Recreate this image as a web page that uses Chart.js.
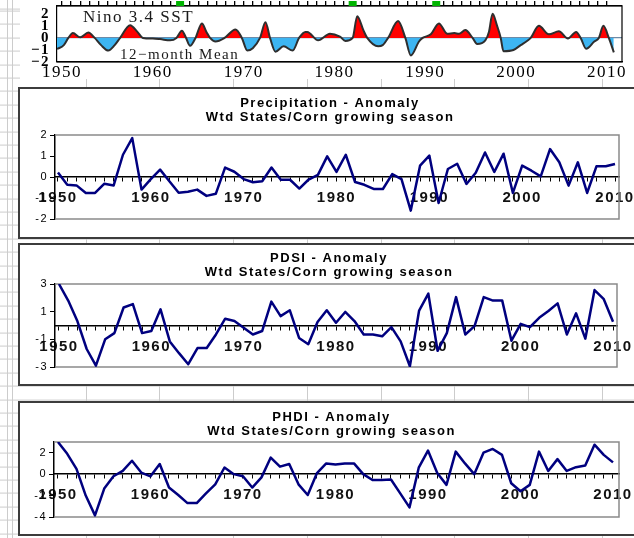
<!DOCTYPE html>
<html>
<head>
<meta charset="utf-8">
<script src="https://cdn.jsdelivr.net/npm/chart.js@4.4.1/dist/chart.umd.min.js"></script>
<style>
  html, body { margin: 0; padding: 0; }
  body {
    width: 634px; height: 538px; position: relative; overflow: hidden;
    background-color: #fff;
    /* spreadsheet grid behind the charts */
    background-image:
      linear-gradient(to right, #cccccc 0 1px, transparent 1px),
      repeating-linear-gradient(to right, #cccccc 0 1px, transparent 1px 73.75px),
      repeating-linear-gradient(to bottom, #cccccc 0 1px, transparent 1px 13.4px);
    background-position: 7px 0, 12px 0, 0 10.6px;
    background-size: 1px 100%, auto, auto;
    background-repeat: no-repeat, repeat, repeat;
  }
  canvas { display: block; background: #fff; }
  #ninoBox { position: absolute; left: 20px; top: 0; }
  .frame { position: absolute; left: 18px; border: 2px solid #3c3c3c; border-right: none; background: #fff; width: 616px; }
</style>
</head>
<body>
<div id="ninoBox"><canvas id="ninoChart" width="614" height="79"></canvas></div>
<div class="frame" style="top:87px;height:148px"><canvas id="precipChart" width="614" height="148"></canvas></div>
<div class="frame" style="top:243px;height:139px"><canvas id="pdsiChart" width="614" height="139"></canvas></div>
<div class="frame" style="top:401px;height:131px"><canvas id="phdiChart" width="614" height="131"></canvas></div>

<script>
// ---- data ----
const firstYear = 1950;
const decadeLabels = [1950, 1960, 1970, 1980, 1990, 2000, 2010];
const subTitle = 'Wtd States/Corn growing season';

// Nino 3.4 SST, 12-month mean (decimal year, anomaly)
const ninoYears = [1949.45, 1950.2, 1950.7, 1951.2, 1952.0, 1952.9, 1953.6, 1954.3, 1955.1, 1955.8,
  1956.4, 1957.5, 1958.3, 1958.9, 1960.0, 1960.8, 1961.9, 1962.6, 1963.2, 1963.6,
  1964.1, 1964.7, 1965.4, 1965.9, 1966.3, 1966.9, 1967.9, 1969.1, 1969.8, 1970.4,
  1971.0, 1971.8, 1972.4, 1972.9, 1973.5, 1974.4, 1975.4, 1976.1, 1976.8, 1977.0,
  1978.2, 1979.5, 1980.6, 1981.2, 1982.0, 1982.5, 1983.2, 1983.6, 1984.8, 1985.3,
  1985.9, 1987.0, 1987.8, 1988.4, 1989.3, 1989.7, 1990.6, 1991.5, 1992.4, 1993.2,
  1993.7, 1994.4, 1995.2, 1995.7, 1996.6, 1997.0, 1997.4, 1997.9, 1998.3, 1998.6,
  1999.7, 2000.5, 2001.3, 2001.6, 2002.5, 2003.6, 2004.7, 2005.7, 2006.6, 2007.1,
  2007.7, 2008.6, 2009.1, 2009.6, 2010.2, 2010.75];
const ninoValues = [-0.92, -0.6, 0.0, 0.4, 0.05, 0.45, 0.0, -0.6, -1.05, -0.6,
  0.0, 1.05, 0.5, 0.0, -0.05, -0.1, -0.2, 0.0, 0.6, 0.1,
  -0.65, 0.0, 1.2, 0.5, 0.0, -0.3, 0.0, 0.7, 0.0, -1.05,
  -0.85, 0.0, 1.3, 0.0, -1.15, -0.7, -1.05, 0.0, 0.5, 0.5,
  -0.2, 0.35, 0.1, -0.25, 0.0, 1.8, 0.6, 0.0, -0.7, -0.6,
  0.0, 1.4, 0.0, -1.45, -0.3, 0.0, 0.3, 1.2, 0.35, 0.4,
  0.35, 0.65, 0.0, -0.5, -0.2, 0.5, 2.0, 1.0, 0.0, -1.1,
  -1.0, -0.6, -0.2, 0.0, 1.0, 0.3, 0.55, -0.05, 0.5, 0.0,
  -0.9, -0.3, 0.0, 1.0, 0.0, -1.2];
const ninoTicks = [-2, -1, 0, 1, 2];
const volcanoYears = [1963.0, 1982.0, 1991.2];

// Annual anomalies 1950-2010
const precipValues = [0.22, -0.37, -0.4, -0.76, -0.76, -0.32, -0.4, 1.06, 1.85, -0.6,
  -0.1, 0.35, -0.2, -0.75, -0.7, -0.6, -0.9, -0.8, 0.45, 0.25,
  -0.1, -0.25, -0.2, 0.45, -0.13, -0.13, -0.55, -0.12, 0.1, 0.98,
  0.24, 1.06, -0.24, -0.37, -0.57, -0.57, 0.14, -0.1, -1.6, 0.54,
  1.02, -1.24, 0.38, 0.63, -0.33, 0.2, 1.17, 0.24, 1.11, -0.76,
  0.54, 0.3, 0.03, 1.33, 0.7, -0.41, 0.7, -0.76, 0.51, 0.51,
  0.62];
const precipTicks = [-2, -1, 0, 1, 2];

const pdsiValues = [3.0, 1.8, 0.3, -1.7, -2.9, -1.0, -0.55, 1.3, 1.55, -0.55,
  -0.4, 1.17, -1.15, -2.0, -2.8, -1.63, -1.63, -0.65, 0.49, 0.32,
  -0.17, -0.65, -0.4, 1.73, 0.68, 1.1, -0.9, -1.35, 0.25, 1.1,
  0.2, 0.98, 0.32, -0.65, -0.65, -0.78, -0.12, -1.15, -2.95, 1.08,
  2.3, -1.83, -0.55, 2.05, -0.65, -0.05, 2.05, 1.8, 1.8, -1.1,
  0.12, -0.12, 0.56, 1.05, 1.6, -0.65, 0.88, -0.95, 2.56, 1.9,
  0.27];
const pdsiTicks = [-3, -1, 1, 3];

const phdiValues = [3.0, 1.9, 0.5, -2.0, -3.85, -1.35, -0.2, 0.3, 1.25, 0.15,
  -0.2, 0.95, -1.25, -1.95, -2.7, -2.7, -1.8, -0.95, 0.62, 0.0,
  -0.2, -1.25, -0.3, 1.55, 0.7, 0.95, -0.95, -1.95, 0.1, 1.0,
  0.9, 1.0, 1.0, 0.0, -0.55, -0.55, -0.5, -1.8, -3.1, 0.6,
  2.2, 0.1, -1.0, 2.1, 1.0, 0.0, 2.0, 2.35, 1.8, -0.85,
  -1.6, -1.0, 2.1, 0.3, 1.4, 0.3, 0.65, 0.8, 2.75, 1.8,
  1.1];
const phdiTicks = [-4, -2, 0, 2];

const years = precipValues.map((v, i) => firstYear + i);

const sans = '"Liberation Sans", Arial, sans-serif';
const serif = '"Liberation Serif", "Times New Roman", serif';

// plot box lines (top, right, bottom) + letter spacing for the stretched old-style text
const plotFrame = {
  id: 'plotFrame',
  beforeDraw(chart, args, opts) {
    chart.ctx.letterSpacing = opts.spacing || '0px';
  },
  beforeDatasetsDraw(chart, args, opts) {
    const { ctx, chartArea: a } = chart;
    ctx.save();
    ctx.strokeStyle = opts.color;
    ctx.lineWidth = opts.width;
    ctx.beginPath();
    ctx.moveTo(a.left, a.top);
    ctx.lineTo(a.right, a.top);
    ctx.lineTo(a.right, a.bottom);
    ctx.lineTo(a.left, a.bottom);
    ctx.stroke();
    ctx.restore();
  }
};

// two-line bold title, centred a little left of the plot centre like the original
const panelTitle = {
  id: 'panelTitle',
  afterDraw(chart, args, opts) {
    if (!opts.lines) return;
    const { ctx, chartArea: a } = chart;
    ctx.save();
    ctx.fillStyle = '#000';
    ctx.font = 'bold 13px ' + sans;
    ctx.textAlign = 'center';
    ctx.textBaseline = 'middle';
    const cx = (a.left + a.right) / 2 + opts.dx;
    opts.lines.forEach((t, i) => ctx.fillText(t, cx, opts.top + i * 14));
    ctx.restore();
  }
};

// labels and volcano markers of the Nino strip
const ninoDecor = {
  id: 'ninoDecor',
  afterDatasetsDraw(chart) {
    const { ctx, chartArea: a } = chart;
    const x = chart.scales.x;
    ctx.save();
    ctx.fillStyle = '#00b400';
    volcanoYears.forEach(yr => {
      const px = x.getPixelForValue(yr);
      ctx.fillRect(px - 4, a.top - 5, 8, 5);
    });
    ctx.fillStyle = '#1a1a1a';
    ctx.textBaseline = 'middle';
    ctx.textAlign = 'left';
    ctx.font = '17px ' + serif;
    ctx.fillText('Nino 3.4 SST', 63, 18);
    ctx.font = '15px ' + serif;
    ctx.fillText('12\u2212month Mean', 100, 55);
    ctx.restore();
  }
};

function initNinoChart() {
  const ctx = document.getElementById('ninoChart');
  if (!ctx) return;
  new Chart(ctx, {
    type: 'line',
    data: {
      datasets: [{
        data: ninoYears.map((yr, i) => ({ x: yr, y: ninoValues[i] })),
        borderColor: '#2e2e2e',
        borderWidth: 2,
        pointRadius: 0,
        cubicInterpolationMode: 'monotone',
        fill: { target: 'origin', above: '#ff0000', below: '#3db5f2' }
      }]
    },
    options: {
      responsive: false,
      animation: false,
      layout: { padding: { left: 0, right: 12, top: 0, bottom: 0 }, autoPadding: false },
      plugins: {
        legend: { display: false },
        tooltip: { enabled: false },
        plotFrame: { color: '#000', width: 1.2, spacing: '1.5px' }
      },
      scales: {
        x: {
          type: 'linear', position: 'bottom', min: 1949.45, max: 2011.65,
          afterBuildTicks: s => { s.ticks = decadeLabels.map(v => ({ value: v })); },
          afterFit: s => { s.height = 17; s.paddingLeft = 0; s.paddingRight = 0; },
          border: { color: '#000', width: 1.2 },
          grid: { display: false, drawTicks: false },
          ticks: { autoSkip: false, maxRotation: 0, padding: 2, color: '#000',
                   font: { family: serif, size: 17, lineHeight: 1 },
                   callback: v => String(v) }
        },
        xTop: {
          type: 'linear', position: 'top', min: 1949.45, max: 2011.65,
          afterBuildTicks: s => { s.ticks = years.map(v => ({ value: v })); },
          afterFit: s => { s.height = 6; s.paddingLeft = 0; s.paddingRight = 0; },
          border: { color: '#000', width: 1.2 },
          grid: { drawOnChartArea: false, tickLength: 5, color: '#000', lineWidth: 1.3 },
          ticks: { display: false }
        },
        y: {
          min: -2, max: 2.65,
          afterBuildTicks: s => { s.ticks = ninoTicks.map(v => ({ value: v })); },
          afterFit: s => { s.width = 37; s.paddingTop = 0; s.paddingBottom = 0; },
          border: { color: '#000', width: 1.2 },
          grid: {
            drawTicks: false, lineWidth: 1.2,
            color: c => (c.tick && c.tick.value === 0) ? '#6d8aa6' : 'rgba(0,0,0,0)'
          },
          ticks: { autoSkip: false, padding: 7, color: '#000',
                   font: { family: serif, size: 15, weight: 'bold', lineHeight: 1 },
                   callback: v => String(v).replace('-', '\u2212') }
        }
      }
    },
    plugins: [plotFrame, ninoDecor]
  });
}

function initPanel(id, title, values, yTicks, yMin, yMax, xMin, xMax, pad, titleTop, dx) {
  const ctx = document.getElementById(id);
  if (!ctx) return;
  new Chart(ctx, {
    type: 'line',
    data: {
      datasets: [{
        data: values.map((v, i) => ({ x: years[i], y: v })),
        borderColor: '#00007f',
        borderWidth: 2.5,
        borderJoinStyle: 'round',
        pointRadius: 0,
        tension: 0
      }]
    },
    options: {
      responsive: false,
      animation: false,
      layout: { padding: pad, autoPadding: false },
      plugins: {
        legend: { display: false },
        tooltip: { enabled: false },
        panelTitle: { lines: [title, subTitle], top: titleTop, dx: dx },
        plotFrame: { color: '#8a8a8a', width: 1.5, spacing: '1.5px' }
      },
      scales: {
        x: {
          type: 'linear', position: { y: 0 }, min: xMin, max: xMax,
          afterBuildTicks: s => { s.ticks = years.map(v => ({ value: v })); },
          afterFit: s => { s.paddingLeft = 0; s.paddingRight = 0; },
          border: { color: '#000', width: 1.5 },
          grid: { drawOnChartArea: false, drawTicks: true, tickLength: 4, color: '#000', lineWidth: 1 },
          ticks: {
            autoSkip: false, maxRotation: 0, padding: 8, color: '#111',
            font: { family: sans, size: 15, weight: 'bold' },
            callback: v => decadeLabels.includes(v) ? String(v) : ''
          }
        },
        y: {
          min: yMin, max: yMax,
          afterBuildTicks: s => { s.ticks = yTicks.map(v => ({ value: v })); },
          afterFit: s => { s.width = pad.yWidth; s.paddingTop = 0; s.paddingBottom = 0; },
          border: { color: '#000', width: 1.5 },
          grid: { drawOnChartArea: false, tickLength: 5, color: '#000' },
          ticks: { autoSkip: false, padding: 2, color: '#000', font: { family: sans, size: 11 } }
        }
      }
    },
    plugins: [plotFrame, panelTitle]
  });
}

document.addEventListener('DOMContentLoaded', function () {
  initNinoChart();
  initPanel('precipChart', 'Precipitation - Anomaly', precipValues, precipTicks, -2, 2,
    1949.68, 2010.43, { left: 0, right: 15, top: 46, bottom: 18, yWidth: 35 }, 14, -7);
  initPanel('pdsiChart', 'PDSI - Anomaly', pdsiValues, pdsiTicks, -3, 3,
    1949.57, 2010.43, { left: 0, right: 17, top: 39, bottom: 17, yWidth: 35 }, 13, -7);
  initPanel('phdiChart', 'PHDI - Anomaly', phdiValues, phdiTicks, -4, 3,
    1949.57, 2010.65, { left: 0, right: 15, top: 39, bottom: 17, yWidth: 34 }, 14, -5);
});
</script>
</body>
</html>
